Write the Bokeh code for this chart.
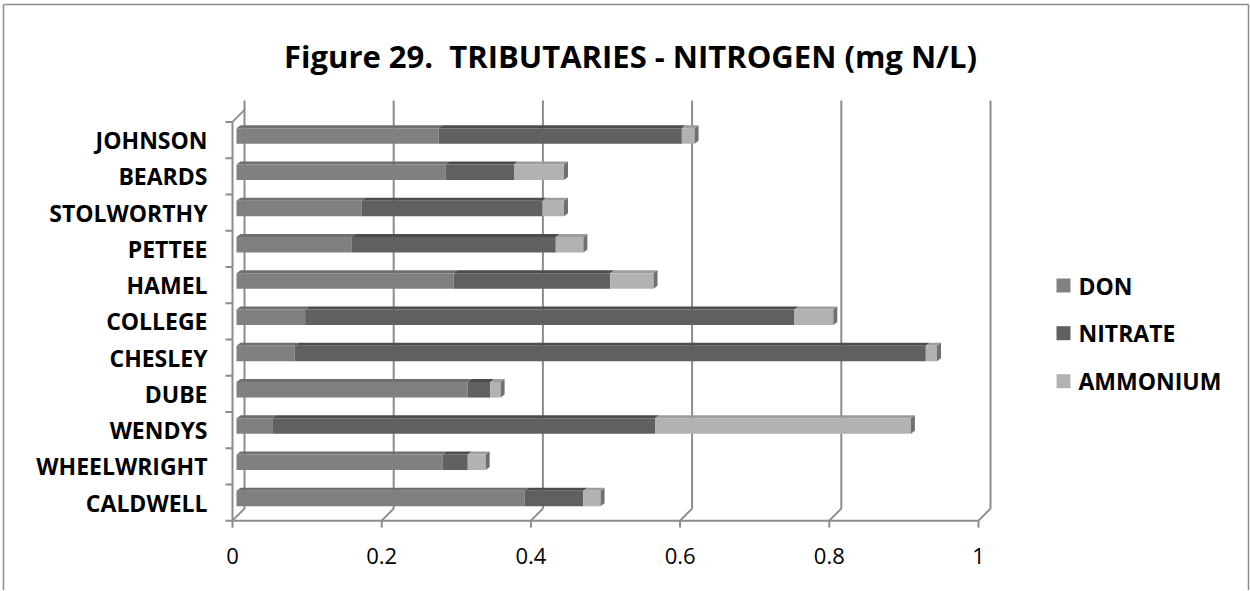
from bokeh.plotting import figure
from bokeh.models import Range1d
from bokeh.core.properties import value
from bokeh.embed import file_html
from bokeh.resources import INLINE

# ---------------- data ----------------
categories = ["CALDWELL", "WHEELWRIGHT", "WENDYS", "DUBE", "CHESLEY", "COLLEGE",
              "HAMEL", "PETTEE", "STOLWORTHY", "BEARDS", "JOHNSON"]
don      = [0.386, 0.276, 0.048, 0.310, 0.078, 0.092, 0.291, 0.154, 0.168, 0.280, 0.271]
nitrate  = [0.079, 0.034, 0.513, 0.030, 0.846, 0.656, 0.210, 0.274, 0.242, 0.092, 0.326]
ammonium = [0.023, 0.024, 0.343, 0.014, 0.015, 0.052, 0.058, 0.037, 0.029, 0.067, 0.017]
series_names = ["DON", "NITRATE", "AMMONIUM"]
x_ticks = [0, 0.2, 0.4, 0.6, 0.8, 1.0]
x_tick_labels = ["0", "0.2", "0.4", "0.6", "0.8", "1"]
title_text = "Figure 29.\u00a0 TRIBUTARIES - NITROGEN (mg N/L)"

# ---------------- style / layout ----------------
front_colors = ["#808080", "#606060", "#b2b2b2"]
top_colors = ["#6f6f6f", "#4c4c4c", "#9d9d9d"]
side_color = "#707070"
grid_color = "#8c8c8c"
FONT = value("Open Sans")

W, H = 1250, 590
ORIGIN_SX, ORIGIN_SY = 0, 0          # where the figure sits on screen
X0_SX, PX = 232, 746.0               # screen x of value 0, pixels per unit
Y0_SY, PY = 502, 36.25               # screen y of first category, pixels per category


def xs_(sx):
    return (sx - X0_SX) / PX


def ys_(sy):
    return (Y0_SY - sy) / PY


x_range = Range1d(xs_(ORIGIN_SX), xs_(ORIGIN_SX + W))
y_range = Range1d(ys_(ORIGIN_SY + H), ys_(ORIGIN_SY))

p = figure(width=W, height=H, x_range=x_range, y_range=y_range,
           output_backend="svg", toolbar_location=None, min_border=0,
           x_axis_location=None, y_axis_location=None)
p.grid.visible = False
p.outline_line_color = None
p.background_fill_color = "white"
p.border_fill_color = "white"

n = len(categories)
idx = list(range(n))

WALL_DX, WALL_DY = 12 / PX, 12 / PY
FRONT_BOTTOM, FRONT_TOP = -0.5, n - 0.5
BACK_TOP = ys_(100)

# back wall gridlines and floor diagonals
p.segment(x0=[t + WALL_DX for t in x_ticks], y0=[FRONT_BOTTOM + WALL_DY] * len(x_ticks),
          x1=[t + WALL_DX for t in x_ticks], y1=[BACK_TOP] * len(x_ticks),
          line_color=grid_color, line_width=2)
p.segment(x0=x_ticks, y0=[FRONT_BOTTOM] * len(x_ticks),
          x1=[t + WALL_DX for t in x_ticks], y1=[FRONT_BOTTOM + WALL_DY] * len(x_ticks),
          line_color=grid_color, line_width=2)
# floor front edge and x ticks
p.segment(x0=[x_ticks[0]], y0=[FRONT_BOTTOM], x1=[x_ticks[-1]], y1=[FRONT_BOTTOM],
          line_color=grid_color, line_width=2)
p.segment(x0=x_ticks, y0=[FRONT_BOTTOM] * len(x_ticks),
          x1=x_ticks, y1=[FRONT_BOTTOM - 7 / PY] * len(x_ticks),
          line_color=grid_color, line_width=2)
# left wall
p.segment(x0=[0], y0=[FRONT_BOTTOM], x1=[0], y1=[FRONT_TOP], line_color=grid_color, line_width=2)
p.segment(x0=[0], y0=[FRONT_TOP], x1=[WALL_DX], y1=[FRONT_TOP + WALL_DY],
          line_color=grid_color, line_width=2)
bounds = [k - 0.5 for k in range(n + 1)]
p.segment(x0=[-7 / PX] * len(bounds), y0=bounds, x1=[0] * len(bounds), y1=bounds,
          line_color=grid_color, line_width=2)

# ---------------- bars ----------------
BAR_DX, BAR_DY = 4 / PX, 4 / PY
BAR_H = 15.6 / PY
DEP_X, DEP_Y = 4 / PX, 3 / PY

series = [don, nitrate, ammonium]
lefts, rights = [], []
acc = [0.0] * n
for s in series:
    lefts.append(list(acc))
    acc = [a + v for a, v in zip(acc, s)]
    rights.append(list(acc))

bottoms = [i + BAR_DY - BAR_H / 2 for i in idx]
tops = [i + BAR_DY + BAR_H / 2 for i in idx]

for j in range(3):
    xs = [[l + BAR_DX, r + BAR_DX, r + BAR_DX + DEP_X, l + BAR_DX + DEP_X]
          for l, r in zip(lefts[j], rights[j])]
    ys = [[t, t, t + DEP_Y, t + DEP_Y] for t in tops]
    p.patches(xs=xs, ys=ys, fill_color=top_colors[j], line_color=None)
for j in range(3):
    p.quad(left=[l + BAR_DX for l in lefts[j]], right=[r + BAR_DX for r in rights[j]],
           bottom=bottoms, top=tops, fill_color=front_colors[j], line_color=None)
side_xs = [[r + BAR_DX, r + BAR_DX + DEP_X, r + BAR_DX + DEP_X, r + BAR_DX] for r in rights[2]]
side_ys = [[b, b + DEP_Y, t + DEP_Y, t] for b, t in zip(bottoms, tops)]
p.patches(xs=side_xs, ys=side_ys, fill_color=side_color, line_color=None)

# ---------------- texts ----------------
p.text(x=[xs_(207)] * n, y=idx, text=categories, text_align="right", text_baseline="middle",
       text_font=FONT, text_font_style="bold", text_font_size="23px", text_color="black")
p.text(x=x_ticks, y=[ys_(555)] * len(x_ticks), text=x_tick_labels, text_align="center",
       text_baseline="middle", text_font=FONT, text_font_size="22px", text_color="black")
p.text(x=[xs_(630)], y=[ys_(55)], text=[title_text], text_align="center", text_baseline="middle",
       text_font=FONT, text_font_style="bold", text_font_size="31px", text_color="black")

# legend
leg_y = [ys_(285), ys_(332.7), ys_(380.7)]
p.rect(x=[xs_(1063)] * 3, y=leg_y, width=14, height=14, width_units="screen",
       height_units="screen", fill_color=front_colors, line_color=None)
p.text(x=[xs_(1078)] * 3, y=leg_y, text=series_names, text_align="left", text_baseline="middle",
       text_font=FONT, text_font_style="bold", text_font_size="23px", text_color="black")

# chart border (top, left, right)
bl, br, bt = xs_(3), xs_(1248), ys_(4)
bb = y_range.start
p.segment(x0=[bl, bl, br], y0=[bt, bt, bt], x1=[br, bl, br], y1=[bt, bb, bb],
          line_color="#8c8c8c", line_width=1.5)

open("out.html", "w").write(file_html(p, INLINE))
